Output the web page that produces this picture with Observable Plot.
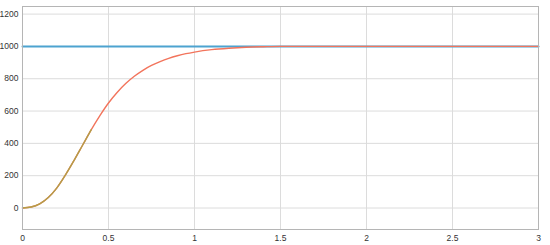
<!DOCTYPE html>
<html>
<head>
<meta charset="utf-8">
<script src="https://cdn.jsdelivr.net/npm/d3@7"></script>
<script src="https://cdn.jsdelivr.net/npm/@observablehq/plot@0.6"></script>
<style>
  html, body { margin: 0; padding: 0; background: #fff; }
  svg { display: block; }
</style>
</head>
<body>
<div id="chart"></div>
<script>
// Time axis (s) and response values
const time     = [0, 0.05, 0.1, 0.15, 0.2, 0.25, 0.3, 0.35, 0.4, 0.45, 0.5, 0.55, 0.6, 0.65, 0.7, 0.75, 0.8, 0.85, 0.9, 0.95, 1.0, 1.1, 1.2, 1.3, 1.4, 1.5, 2.0, 2.5, 3.0];
const response = [0, 6, 26, 65, 125, 205, 295, 390, 485, 572, 650, 715, 770, 815, 852, 882, 906, 926, 942, 955, 965, 980, 989, 995, 998, 1000, 1000, 1000, 1000];
// Early segment (yellow trace overlapping the response)
const earlyTime  = [0, 0.05, 0.1, 0.15, 0.2, 0.25, 0.3, 0.35, 0.4];
const earlyValue = [0, 6, 26, 65, 125, 205, 295, 390, 485];
// Reference setpoint
const refTime  = [0, 3];
const refValue = [1000, 1000];

const xTicks = [0, 0.5, 1, 1.5, 2, 2.5, 3];
const xTickLabels = ["0", "0.5", "1", "1.5", "2", "2.5", "3"];
const yTicks = [0, 200, 400, 600, 800, 1000, 1200];
const yTickLabels = ["0", "200", "400", "600", "800", "1000", "1200"];

const respData  = time.map((t, i) => ({t, v: response[i]}));
const earlyData = earlyTime.map((t, i) => ({t, v: earlyValue[i]}));
const refData   = refTime.map((t, i) => ({t, v: refValue[i]}));

const chart = Plot.plot({
  width: 550,
  height: 245,
  marginLeft: 22,
  marginRight: 12,
  marginTop: 6,
  marginBottom: 16,
  style: {fontFamily: "Liberation Sans, Arial, sans-serif", fontSize: "8.5px", color: "#333", background: "#fff"},
  x: {domain: [0, 3], label: null},
  y: {domain: [-133, 1247], label: null},
  marks: [
    Plot.gridX(xTicks, {stroke: "#dcdcdc", strokeOpacity: 1}),
    Plot.gridY(yTicks, {stroke: "#dcdcdc", strokeOpacity: 1}),
    Plot.axisX({ticks: xTicks, tickSize: 0, tickPadding: 5, tickFormat: (d) => xTickLabels[xTicks.indexOf(d)], label: null, fill: "#333"}),
    Plot.axisY({ticks: yTicks, tickSize: 0, tickPadding: 4, tickFormat: (d) => yTickLabels[yTicks.indexOf(d)], label: null, fill: "#333"}),
    Plot.line(refData, {x: "t", y: "v", stroke: "#4da3d0", strokeWidth: 2}),
    Plot.line(respData, {x: "t", y: "v", stroke: "#f2745c", strokeWidth: 1.4, curve: "monotone-x"}),
    Plot.line(earlyData, {x: "t", y: "v", stroke: "#b49e48", strokeWidth: 1.4, curve: "monotone-x"}),
    Plot.frame({stroke: "#b5b5b5"})
  ]
});
document.getElementById("chart").appendChild(chart);
</script>
</body>
</html>
